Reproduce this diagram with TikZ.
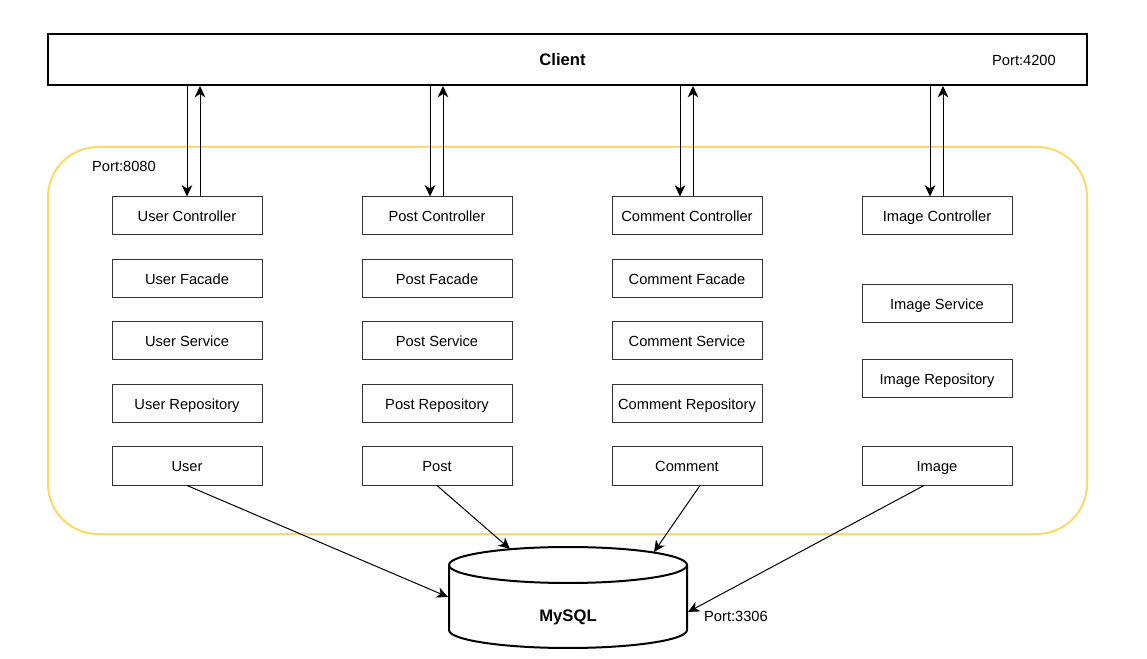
\documentclass[tikz,border=0pt]{standalone}
\usepackage{fontspec}
\setmainfont{Liberation Sans}
\usetikzlibrary{arrows.meta}
\definecolor{srvyellow}{RGB}{255,217,102}
\begin{document}
\begin{tikzpicture}[x=0.75pt,y=-0.75pt,
    layer/.style={draw=black!80,line width=0.75pt,minimum width=112.5pt,minimum height=28.5pt,inner sep=0pt,text height=8.5pt,text depth=0pt,font=\fontsize{11}{13}\selectfont},
    link/.style={line width=0.75pt,-{Stealth[length=8.5pt,width=8pt,inset=2.5pt]}},
    port/.style={inner sep=0pt,font=\fontsize{11}{13}\selectfont}]
  \useasboundingbox (0,0) rectangle (1147,659);

  \draw[srvyellow,line width=1.5pt,rounded corners=37.5pt] (48,147) rectangle (1087,534);
  \node[draw,line width=1.5pt,minimum width=779.25pt,minimum height=38.25pt,inner sep=0pt,font=\fontsize{12.5}{15}\bfseries] (client) at (567.5,59.5) {\hspace*{-7.5pt}Client};
  \node[port] (p4200) at (1024,60) {Port:4200};
  \node[port] (p8080) at (124,166) {Port:8080};

  \node[layer] (uc) at (187,216) {User Controller};
  \node[layer] (uf) at (187,279) {User Facade};
  \node[layer] (us) at (187,341) {User Service};
  \node[layer] (ur) at (187,404) {User Repository};
  \node[layer] (u)  at (187,466) {User};

  \node[layer] (pc) at (437,216) {Post Controller};
  \node[layer] (pf) at (437,279) {Post Facade};
  \node[layer] (ps) at (437,341) {Post Service};
  \node[layer] (pr) at (437,404) {Post Repository};
  \node[layer] (p)  at (437,466) {Post};

  \node[layer] (cc) at (687,216) {Comment Controller};
  \node[layer] (cf) at (687,279) {Comment Facade};
  \node[layer] (cs) at (687,341) {Comment Service};
  \node[layer] (cr) at (687,404) {Comment Repository};
  \node[layer] (c)  at (687,466) {Comment};

  \node[layer] (ic) at (937,216) {Image Controller};
  \node[layer] (is) at (937,304) {Image Service};
  \node[layer] (ir) at (937,379) {Image Repository};
  \node[layer] (i)  at (937,466) {Image};

  \draw[link] (uc.north |- client.south) -- (uc.north);
  \draw[link] ([xshift=9.75pt]uc.north) -- ([xshift=9.75pt]uc.north |- client.south);
  \draw[link] ([xshift=-5.25pt]pc.north |- client.south) -- ([xshift=-5.25pt]pc.north);
  \draw[link] ([xshift=4.5pt]pc.north) -- ([xshift=4.5pt]pc.north |- client.south);
  \draw[link] ([xshift=-5.25pt]cc.north |- client.south) -- ([xshift=-5.25pt]cc.north);
  \draw[link] ([xshift=4.5pt]cc.north) -- ([xshift=4.5pt]cc.north |- client.south);
  \draw[link] ([xshift=-5.25pt]ic.north |- client.south) -- ([xshift=-5.25pt]ic.north);
  \draw[link] ([xshift=4.5pt]ic.north) -- ([xshift=4.5pt]ic.north |- client.south);

  \draw[line width=1.5pt,fill=white] (449,565) -- (449,630) arc (180:0:119 and 18) -- (687,565);
  \draw[line width=1.5pt] (568,565) ellipse (119 and 18);
  \node[inner sep=0pt,font=\fontsize{12.5}{15}\bfseries] (db) at (568,617) {MySQL};
  \node[port] (p3306) at (736,616) {Port:3306};
  \coordinate (db-w) at (448,597);
  \coordinate (db-nw) at (510,549);
  \coordinate (db-ne) at (654,552);
  \coordinate (db-e) at (688,612);

  \draw[link] (u.south) -- (db-w);
  \draw[link] (p.south) -- (db-nw);
  \draw[link] ([xshift=9.75pt]c.south) -- (db-ne);
  \draw[link] ([xshift=-9.75pt]i.south) -- (db-e);
\end{tikzpicture}
\end{document}
